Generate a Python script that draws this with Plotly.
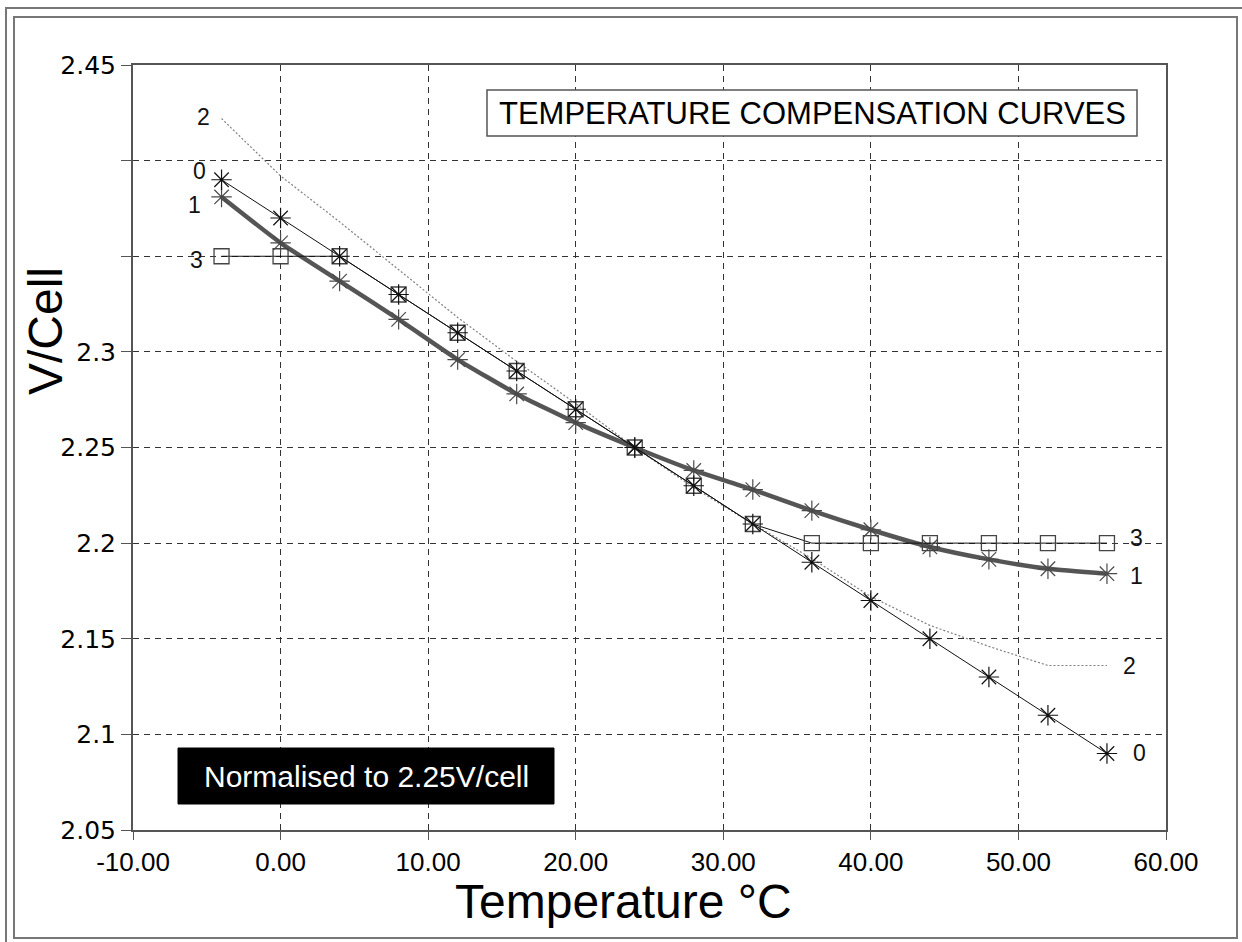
import plotly.graph_objects as go

# ---- data ----
temps = [-4, 0, 4, 8, 12, 16, 20, 24, 28, 32, 36, 40, 44, 48, 52, 56]
curve0 = [2.39, 2.37, 2.35, 2.33, 2.31, 2.29, 2.27, 2.25, 2.23, 2.21, 2.19, 2.17, 2.15, 2.13, 2.11, 2.09]
curve1 = [2.381, 2.357, 2.337, 2.317, 2.296, 2.278, 2.263, 2.25, 2.238, 2.228, 2.217, 2.207, 2.198, 2.1915, 2.1866, 2.184]
curve2 = [2.422, 2.392, 2.368, 2.343, 2.318, 2.295, 2.273, 2.25, 2.229, 2.21, 2.192, 2.172, 2.157, 2.146, 2.136, 2.136]
curve3 = [2.35, 2.35, 2.35, 2.33, 2.31, 2.29, 2.27, 2.25, 2.23, 2.21, 2.20, 2.20, 2.20, 2.20, 2.20, 2.20]

x_ticks = [-10, 0, 10, 20, 30, 40, 50, 60]
x_ticktext = ["-10.00", "0.00", "10.00", "20.00", "30.00", "40.00", "50.00", "60.00"]
y_ticks = [2.05, 2.10, 2.15, 2.20, 2.25, 2.30, 2.35, 2.40, 2.45]
y_ticktext = ["2.05", "2.1", "2.15", "2.2", "2.25", "2.3", "", "", "2.45"]

# curve end labels: (text, x, y)
left_labels = [("2", -4.7, 2.4228), ("0", -5.0, 2.3945), ("1", -5.3, 2.3768), ("3", -5.2, 2.348)]
right_labels = [("3", 57.5, 2.2028), ("1", 57.5, 2.1830), ("2", 57.0, 2.1355), ("0", 57.7, 2.0905)]

W, H = 1242, 942
ML, MR, MT, MB = 133, 76, 65, 112
PW, PH = W - ML - MR, H - MT - MB


def px(xp):
    return (xp - ML) / PW


def py(yp):
    return (H - MB - yp) / PH


fig = go.Figure()

fig.add_trace(go.Scatter(x=temps, y=curve2, mode="lines", name="2",
                         line=dict(color="#808080", width=1.2, dash="2px,2px")))
fig.add_trace(go.Scatter(x=temps, y=curve1, mode="lines+markers", name="1",
                         line=dict(color="#555555", width=4.5, shape="spline", smoothing=0.5),
                         marker=dict(symbol="asterisk-open", size=17, color="#4a4a4a",
                                     line=dict(color="#4a4a4a", width=1.2))))
fig.add_trace(go.Scatter(x=temps, y=curve3, mode="lines+markers", name="3",
                         line=dict(color="#111111", width=1),
                         marker=dict(symbol="square-open", size=15, color="#444444",
                                     line=dict(color="#444444", width=1.3))))
fig.add_trace(go.Scatter(x=temps, y=curve0, mode="lines+markers", name="0",
                         line=dict(color="#111111", width=1),
                         marker=dict(symbol="asterisk-open", size=17, color="#111111",
                                     line=dict(color="#111111", width=1.2))))

label_font = dict(family="Liberation Sans, Arial, sans-serif", size=23, color="#111111")
annotations = []
for t, x, y in left_labels:
    annotations.append(dict(x=x, y=y, xref="x", yref="y", text=t, showarrow=False,
                            xanchor="right", yanchor="middle", font=label_font, borderpad=0))
for t, x, y in right_labels:
    annotations.append(dict(x=x, y=y, xref="x", yref="y", text=t, showarrow=False,
                            xanchor="left", yanchor="middle", font=label_font, borderpad=0))

annotations.append(dict(x=px(812), y=py(113), xref="paper", yref="paper",
                        text="TEMPERATURE COMPENSATION CURVES", showarrow=False,
                        xanchor="center", yanchor="middle",
                        font=dict(family="Liberation Sans, Arial, sans-serif", size=31, color="#000")))
annotations.append(dict(x=px(366), y=py(776), xref="paper", yref="paper",
                        text="Normalised to 2.25V/cell", showarrow=False,
                        xanchor="center", yanchor="middle",
                        font=dict(family="Liberation Sans, Arial, sans-serif", size=30, color="#fff")))
annotations.append(dict(x=px(45), y=py(331), xref="paper", yref="paper",
                        text="V/Cell", showarrow=False, textangle=-90,
                        xanchor="center", yanchor="middle",
                        font=dict(family="Liberation Sans, Arial, sans-serif", size=48, color="#000")))
annotations.append(dict(x=px(623), y=py(874), xref="paper", yref="paper",
                        text="Temperature °C", showarrow=False,
                        xanchor="center", yanchor="top", borderpad=0,
                        font=dict(family="Liberation Sans, Arial, sans-serif", size=48, color="#000")))

shapes = [
    # inner frame
    dict(type="rect", xref="paper", yref="paper", x0=px(14), x1=px(1237), y0=py(938), y1=py(17),
         line=dict(color="#777777", width=2), layer="below"),
    # outer L-frame
    dict(type="path", xref="paper", yref="paper",
         path=f"M {px(6)} {py(942)} L {px(6)} {py(8)} L {px(1242)} {py(8)}",
         line=dict(color="#777777", width=2)),
    # title box
    dict(type="rect", xref="paper", yref="paper", x0=px(487), x1=px(1137), y0=py(136), y1=py(90),
         line=dict(color="#555555", width=1.5), fillcolor="white", layer="above"),
    # normalised box
    dict(type="rect", xref="paper", yref="paper", x0=px(178), x1=px(554), y0=py(804), y1=py(748),
         line=dict(color="#000", width=1), fillcolor="#000", layer="above"),
]

fig.update_layout(
    width=W, height=H,
    margin=dict(l=ML, r=MR, t=MT, b=MB),
    paper_bgcolor="white", plot_bgcolor="white",
    showlegend=False,
    annotations=annotations,
    shapes=shapes,
)
fig.update_xaxes(range=[-10, 60], tickvals=x_ticks, ticktext=x_ticktext,
                 showgrid=True, gridcolor="#333333", gridwidth=1, griddash="6px,5px",
                 showline=True, linecolor="#555555", linewidth=2, mirror=True,
                 ticks="outside", ticklen=8, tickcolor="#555555",
                 tickfont=dict(family="Liberation Sans, Arial, sans-serif", size=26, color="#000"),
                 zeroline=False)
fig.update_yaxes(range=[2.05, 2.45], tickvals=y_ticks, ticktext=y_ticktext,
                 showgrid=True, gridcolor="#333333", gridwidth=1, griddash="6px,5px",
                 showline=True, linecolor="#555555", linewidth=2, mirror=True,
                 ticks="outside", ticklen=10, tickcolor="#555555",
                 tickfont=dict(family="DejaVu Sans, sans-serif", size=25, color="#000"),
                 zeroline=False)

fig.write_html("out.html", config={"displayModeBar": False},
               post_script="document.body.style.margin='0px';document.body.style.overflow='hidden';")
